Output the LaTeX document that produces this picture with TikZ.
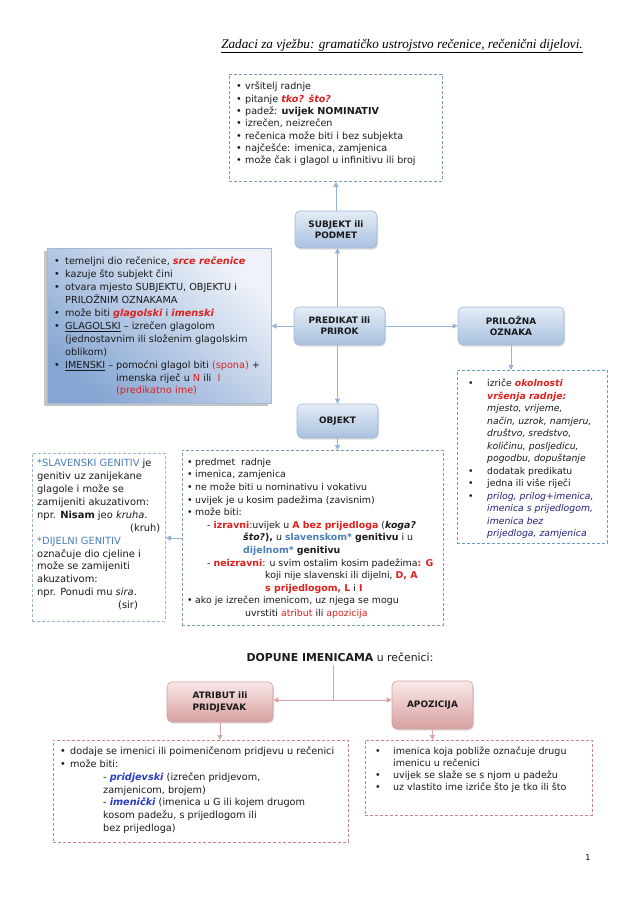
\documentclass[tikz,border=0pt]{standalone}
\usepackage{fontspec}
\setmainfont{DejaVu Sans}
\newfontfamily\ttl{Liberation Serif}
\usetikzlibrary{arrows.meta,shadows,calc}
\definecolor{conb}{HTML}{95B3D7}
\definecolor{btop}{HTML}{E4ECF6}
\definecolor{bbot}{HTML}{A9C1E0}
\definecolor{bbord}{HTML}{A3B9D6}
\definecolor{dashb}{HTML}{7D98BD}
\definecolor{dasht}{HTML}{5FA0BB}
\definecolor{dashl}{HTML}{9DB5D9}
\definecolor{ptop}{HTML}{F9E8E8}
\definecolor{pbot}{HTML}{D8A0A0}
\definecolor{pbord}{HTML}{D2A1A1}
\definecolor{dashp}{HTML}{C98585}
\definecolor{conp}{HTML}{D9A3A3}
\definecolor{rd}{HTML}{E0201E}
\definecolor{bl}{HTML}{4A7EBB}
\definecolor{nv}{HTML}{22227F}
\definecolor{pb}{HTML}{2A3BC4}
\definecolor{txt}{HTML}{1A1A1A}
\definecolor{lbl}{HTML}{EFF3F9}
\definecolor{lbd}{HTML}{86A6D3}
\newcommand{\bu}[1][9pt]{\makebox[#1][l]{\textbullet}}
\newcommand{\rb}[1]{\textcolor{rd}{\textbf{#1}}}
\newcommand{\rbi}[1]{\textcolor{rd}{\textbf{\textit{#1}}}}
\tikzset{
  con/.style={draw=conb, line width=0.9pt, -{Triangle[length=5pt,width=5pt]}},
  pcon/.style={draw=conp, line width=0.9pt, -{Triangle[length=5pt,width=5pt]}},
  pline/.style={draw=conp, line width=0.9pt},
  bnode/.style={rounded corners=5pt, draw=bbord, top color=btop, bottom color=bbot,
    line width=0.6pt, text=txt, align=center, inner sep=1pt,
    font=\bfseries\fontsize{8.9}{11.2}\selectfont,
    drop shadow={opacity=0.25, shadow xshift=1pt, shadow yshift=-1.5pt}},
  pnode/.style={bnode, draw=pbord, top color=ptop, bottom color=pbot},
  dbox/.style={draw, dash pattern=on 3pt off 2pt, line width=0.8pt, anchor=north west, inner sep=0pt},
  txtn/.style={anchor=north west, inner sep=0pt, align=left, text=txt,
    font=\fontsize{9.3}{12.5}\selectfont},
}
\begin{document}
\begin{tikzpicture}[x=1pt,y=-1pt]
\useasboundingbox[fill=white] (0,0) rectangle (638,903);

% title
\node[inner sep=0pt, font=\ttl\itshape\fontsize{13.2}{15}\selectfont] (title) at (402,46)
  {\underline{Zadaci za vježbu: gramatičko ustrojstvo rečenice, rečenični dijelovi.}};

% top box
\node[dbox, draw=dashb, minimum width=213pt, minimum height=107pt] (topbox) at (229,74) {};
\node[txtn, font=\fontsize{9.6}{12.3}\selectfont] (toptxt) at (236,82) {%
\bu vršitelj radnje\\
\bu pitanje \rbi{tko? što?}\\
\bu padež: \textbf{uvijek NOMINATIV}\\
\bu izrečen, neizrečen\\
\bu rečenica može biti i bez subjekta\\
\bu najčešće: imenica, zamjenica\\
\bu može čak i glagol u infinitivu ili broj};

% central nodes
\node[bnode, minimum width=82pt, minimum height=37pt] (subj) at (336,229.5) {SUBJEKT ili\\PODMET};
\node[bnode, minimum width=91pt, minimum height=38pt] (pred) at (339.5,326) {PREDIKAT ili\\PRIROK};
\node[bnode, minimum width=81pt, minimum height=34pt] (obj) at (337.5,421) {OBJEKT};
\node[bnode, minimum width=106pt, minimum height=38pt] (pril) at (511,326) {PRILOŽNA\\OZNAKA};

% left blue box
\node[anchor=north west, inner sep=0pt, minimum width=224pt, minimum height=155pt,
  draw=bbord, line width=0.5pt, top color=lbl, bottom color=lbd, shading angle=-40,
  drop shadow={opacity=0.45, shadow xshift=-3pt, shadow yshift=-3pt}] (lbox) at (47,248) {};
\node[txtn, font=\fontsize{9.7}{12.9}\selectfont] (ltxt) at (54,257) {%
\bu[11pt]temeljni dio rečenice, \rbi{srce rečenice}\\
\bu[11pt]kazuje što subjekt čini\\
\bu[11pt]otvara mjesto SUBJEKTU, OBJEKTU i\\
\hspace*{11pt}PRILOŽNIM OZNAKAMA\\
\bu[11pt]može biti \rbi{glagolski} i \rbi{imenski}\\
\bu[11pt]\underline{GLAGOLSKI} – izrečen glagolom\\
\hspace*{11pt}(jednostavnim ili složenim glagolskim\\
\hspace*{11pt}oblikom)\\
\bu[11pt]\underline{IMENSKI}\ –\ pomoćni glagol biti \textcolor{rd}{(spona)} +\\
\hspace*{11pt}\phantom{IMENSKI\ –\ }imenska riječ u \textcolor{rd}{N} ili \ \textcolor{rd}{I}\\
\hspace*{11pt}\phantom{IMENSKI\ –\ }\textcolor{rd}{(predikatno ime)}};

% right box
\node[dbox, draw=dasht, minimum width=150pt, minimum height=173pt] (rbox) at (457,370) {};
\node[txtn] (rtxt) at (468,379) {%
\bu[19pt]izriče \rbi{okolnosti}\\
\hspace*{19pt}\rbi{vršenja radnje:}\\
\hspace*{19pt}\textit{mjesto, vrijeme,}\\
\hspace*{19pt}\textit{način, uzrok, namjeru,}\\
\hspace*{19pt}\textit{društvo, sredstvo,}\\
\hspace*{19pt}\textit{količinu, posljedicu,}\\
\hspace*{19pt}\textit{pogodbu, dopuštanje}\\
\bu[19pt]dodatak predikatu\\
\bu[19pt]jedna ili više riječi\\
\bu[19pt]\textcolor{nv}{\textit{prilog, prilog+imenica,}}\\
\hspace*{19pt}\textcolor{nv}{\textit{imenica s prijedlogom,}}\\
\hspace*{19pt}\textcolor{nv}{\textit{imenica bez}}\\
\hspace*{19pt}\textcolor{nv}{\textit{prijedloga, zamjenica}}};

% objekt box
\node[dbox, draw=dashb, minimum width=261pt, minimum height=175pt] (objbox) at (182,450) {};
\node[txtn, font=\fontsize{9.4}{12.6}\selectfont] (otxt) at (187,458) {%
\bu[8pt]predmet \ radnje\\
\bu[8pt]imenica, zamjenica\\
\bu[8pt]ne može biti u nominativu i vokativu\\
\bu[8pt]uvijek je u kosim padežima (zavisnim)\\
\bu[8pt]može biti:\\
\hspace*{20pt}- \rb{izravni}:uvijek u \rb{A bez prijedloga} (\textbf{\textit{koga?}}\\
\hspace*{56pt}\textbf{\textit{što?}}\textbf{),} u \textcolor{bl}{\textbf{slavenskom*}} \textbf{genitivu} i u\\
\hspace*{56pt}\textcolor{bl}{\textbf{dijelnom*}} \textbf{genitivu}\\
\hspace*{20pt}- \rb{neizravni}: u svim ostalim kosim padežima\rb{: G}\\
\hspace*{78pt}koji nije slavenski ili dijelni, \rb{D, A}\\
\hspace*{78pt}\rb{s prijedlogom, L} i \rb{I}\\
\bu[8pt]ako je izrečen imenicom, uz njega se mogu\\
\hspace*{58pt}uvrstiti \textcolor{rd}{atribut} ili \textcolor{rd}{apozicija}};

% genitiv box
\node[dbox, draw=dashl, minimum width=133pt, minimum height=168pt] (genbox) at (32,453) {};
\node[txtn, font=\fontsize{9.9}{12.9}\selectfont] (gtxt) at (37,459) {%
\textcolor{bl}{*SLAVENSKI GENITIV} je\\
genitiv uz zanijekane\\
glagole i može se\\
zamijeniti akuzativom:\\
npr. \textbf{Nisam} jeo \textit{kruha}.\\
\hspace*{93pt}(kruh)\\
\textcolor{bl}{*DIJELNI GENITIV}\\
označuje dio cjeline i\\
može se zamijeniti\\
akuzativom:\\
npr. Ponudi mu \textit{sira}.\\
\hspace*{81pt}(sir)};

% connectors upper part
\draw[con] (subj.north) -- (subj.north |- topbox.south);
\draw[con] (pred.north -| obj.north) -- (subj.south -| obj.north);
\draw[con] (pred.south -| obj.north) -- (obj.north);
\draw[con] (pred.west) -- (lbox.east |- pred.west);
\draw[con] (pred.east) -- (pril.west);
\draw[con] (pril.south) -- (pril.south |- rbox.north);
\draw[con] (obj.south) -- (obj.south |- objbox.north);
\coordinate (gy) at (0,538);
\draw[con] (objbox.west |- gy) -- (genbox.east |- gy);

% bottom part
\node[inner sep=0pt, text=txt, font=\fontsize{10.9}{13}\selectfont] (dop) at (340,657)
  {\textbf{DOPUNE IMENICAMA} u rečenici:};
\node[pnode, minimum width=106pt, minimum height=40pt, align=left] (atr) at (220,702)
  {ATRIBUT ili\\PRIDJEVAK};
\node[pnode, minimum width=81pt, minimum height=48pt] (apoz) at (432.5,705) {APOZICIJA};
\coordinate (junc) at (333,700);
\draw[pline] (dop.south -| junc) ++(0,3) -- (junc);
\draw[pcon] (junc) -- (junc -| atr.east);
\draw[pcon] (junc) -- (junc -| apoz.west);

\node[dbox, draw=dashp, minimum width=295pt, minimum height=102pt] (plbox) at (53,740) {};
\node[dbox, draw=dashp, minimum width=227pt, minimum height=75pt] (prbox) at (365,740) {};
\draw[pcon] (atr.south) -- (atr.south |- plbox.north);
\draw[pcon] (apoz.south) -- (apoz.south |- prbox.north);

\node[txtn, font=\fontsize{9.7}{12.7}\selectfont] (pltxt) at (60,747) {%
\bu[10pt]dodaje se imenici ili poimeničenom pridjevu u rečenici\\
\bu[10pt]može biti:\\
\hspace*{43pt}- \textcolor{pb}{\textbf{\textit{pridjevski}}} (izrečen pridjevom,\\
\hspace*{43pt}zamjenicom, brojem)\\
\hspace*{43pt}- \textcolor{pb}{\textbf{\textit{imenički}}} (imenica u G ili kojem drugom\\
\hspace*{43pt}kosom padežu, s prijedlogom ili\\
\hspace*{43pt}bez prijedloga)};
\node[txtn, font=\fontsize{9.5}{12}\selectfont] (prtxt) at (375,747) {%
\bu[18pt]imenica koja pobliže označuje drugu\\
\hspace*{18pt}imenicu u rečenici\\
\bu[18pt]uvijek se slaže se s njom u padežu\\
\bu[18pt]uz vlastito ime izriče što je tko ili što};

\node[inner sep=0pt, font=\fontsize{8}{10}\selectfont] (pg) at (588,858) {1};
\end{tikzpicture}
\end{document}
